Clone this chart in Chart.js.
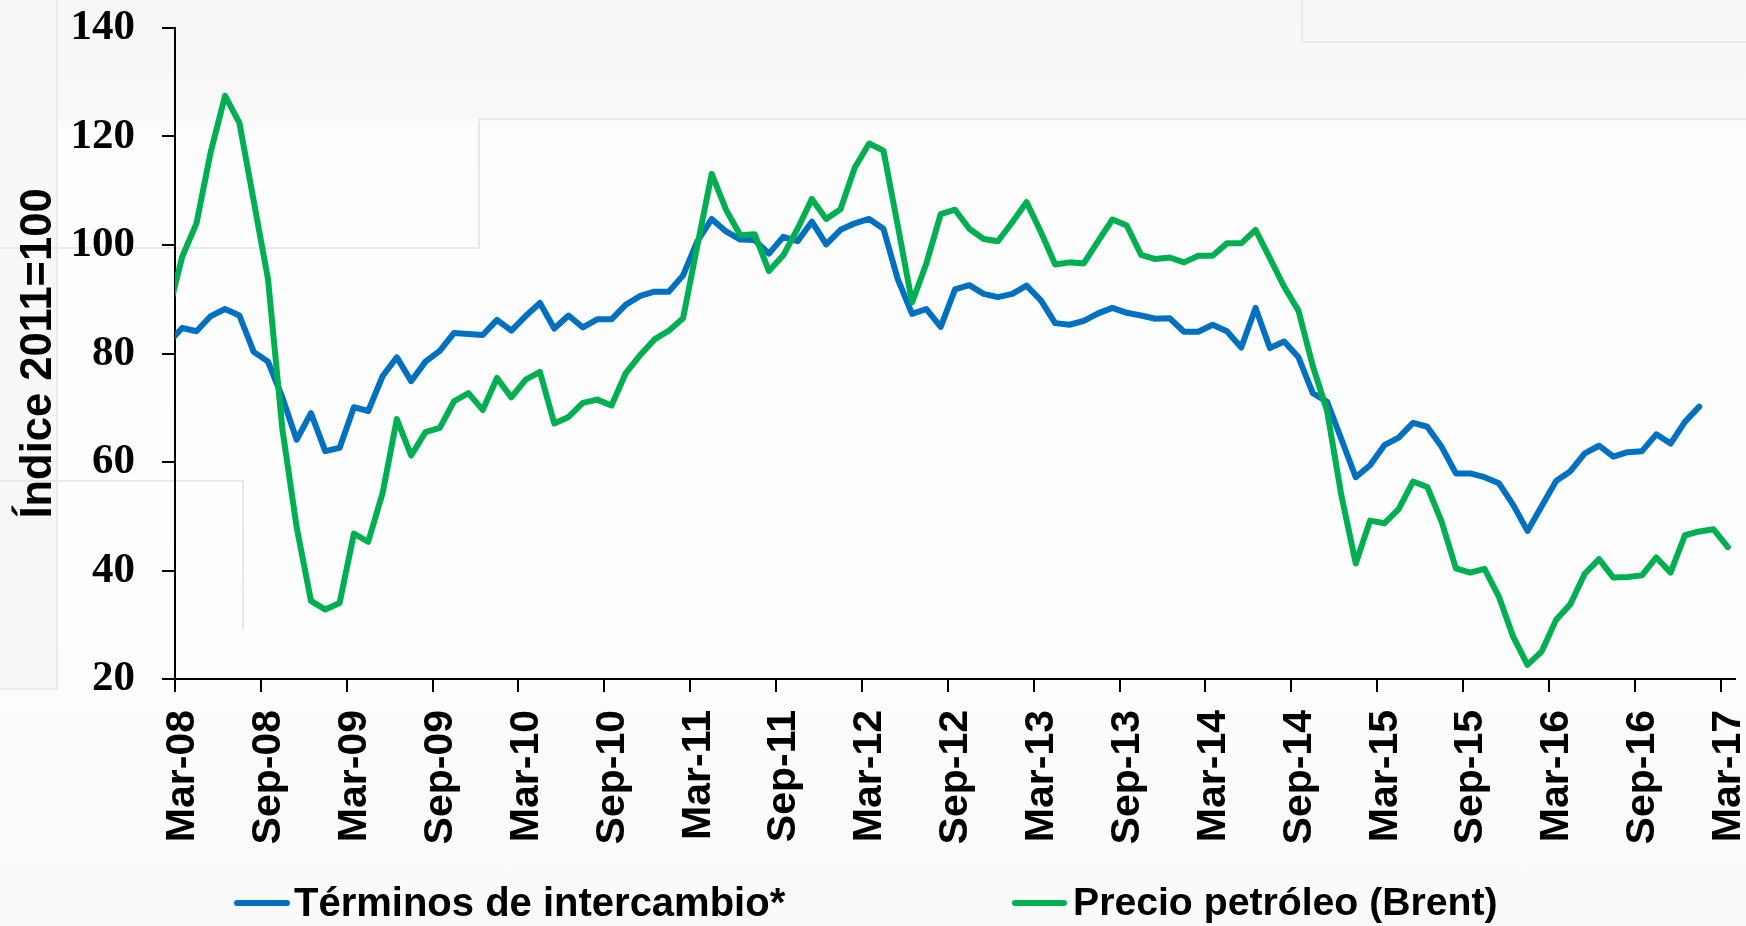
<!DOCTYPE html>
<html lang="es">
<head>
<meta charset="utf-8">
<title>Términos de intercambio y precio del petróleo</title>
<script src="https://cdn.jsdelivr.net/npm/chart.js@4.4.1/dist/chart.umd.min.js"></script>
<style>
  html, body { margin: 0; padding: 0; }
  body {
    width: 1746px; height: 926px; overflow: hidden; position: relative;
    background: linear-gradient(#f7f7f7 0px, #f9f9f9 122px, #fdfdfd 130px, #fefefe 520px, #fafafa 926px);
  }
  .deco { position: absolute; background: #e9e9e9; }
  #chart { position: absolute; left: 0; top: 0; }
  .leg-text {
    position: absolute; top: 879px; color: #000; white-space: nowrap;
    font: bold 40px "Liberation Sans", Arial, sans-serif; line-height: 46px;
  }
  .leg-line { position: absolute; top: 900px; height: 6px; border-radius: 3px; }
</style>
</head>
<body>
<!-- fondo de la diapositiva -->
<div class="deco" style="left:0;top:0;width:56px;height:688px;background:#f8f8f8;border-right:2px solid #ebebeb;border-bottom:2px solid #ebebeb"></div>
<div class="deco" style="left:479px;top:118px;width:1267px;height:2px"></div>
<div class="deco" style="left:478px;top:118px;width:2px;height:131px"></div>
<div class="deco" style="left:0;top:247px;width:480px;height:2px"></div>
<div class="deco" style="left:1301px;top:0;width:2px;height:43px"></div>
<div class="deco" style="left:1301px;top:41px;width:445px;height:2px"></div>
<div class="deco" style="left:0;top:480px;width:244px;height:2px"></div>
<div class="deco" style="left:242px;top:480px;width:2px;height:150px"></div>

<canvas id="chart" width="1746" height="926"></canvas>

<div class="leg-line" style="left:234px;width:56px;background:#0070C0"></div>
<div class="leg-text" style="left:294px">Términos de intercambio*</div>
<div class="leg-line" style="left:1012px;width:55px;background:#00B050"></div>
<div class="leg-text" style="left:1073px;font-size:39.2px">Precio petróleo (Brent)</div>

<script>
// Meses desde Feb-08 (el primero queda cortado por el eje) hasta Mar-17
const months = [];
for (let y = 2008; y <= 2017; y++) {
    ['Ene', 'Feb', 'Mar', 'Abr', 'May', 'Jun', 'Jul', 'Ago', 'Sep', 'Oct', 'Nov', 'Dic'].forEach((m, k) => {
        if ((y === 2008 && k < 1) || (y === 2017 && k > 2)) return;
        months.push(m + '-' + String(y).slice(2));
    });
}

const tickLabels = ['Mar-08', 'Sep-08', 'Mar-09', 'Sep-09', 'Mar-10', 'Sep-10', 'Mar-11', 'Sep-11',
    'Mar-12', 'Sep-12', 'Mar-13', 'Sep-13', 'Mar-14', 'Sep-14', 'Mar-15', 'Sep-15', 'Mar-16', 'Sep-16', 'Mar-17'];

const yTicks = [20, 40, 60, 80, 100, 120, 140];

// Términos de intercambio (índice 2011=100), Feb-08 ... Ene-17
const terminos = [
    81.9, 84.7, 84.1, 86.9, 88.2, 87, 80.3, 78.5, 71.9, 64.1, 69,
    62, 62.6, 70.1, 69.4, 75.8, 79.3, 74.9, 78.5, 80.5, 83.8, 83.6, 83.4,
    86.2, 84.2, 86.9, 89.3, 84.6, 87, 84.8, 86.3, 86.3, 89, 90.6, 91.4,
    91.4, 94.4, 100.7, 104.8, 102.5, 101, 100.9, 98.4, 101.5, 100.7, 104.3, 100.1,
    102.8, 104, 104.8, 103, 93.7, 87.3, 88.2, 84.9, 91.8, 92.6, 91, 90.4,
    91, 92.5, 89.8, 85.6, 85.3, 86, 87.4, 88.4, 87.5, 87, 86.4, 86.5,
    84, 84, 85.3, 84.1, 81.1, 88.4, 81, 82.2, 79.3, 72.7, 71.1, 64.2,
    57.2, 59.4, 63.1, 64.5, 67.2, 66.5, 62.8, 57.9, 57.9, 57.2, 56.1, 52.1,
    47.3, 51.9, 56.5, 58.3, 61.6, 63, 61, 61.8, 62, 65.1, 63.4, 67.4,
    70.2
];

// Precio del petróleo Brent (índice 2011=100), Feb-08 ... Mar-17
const brent = [
    87.2, 97.8, 104, 117.2, 127.5, 122.5, 108.1, 93.7, 66.1, 48, 34.4,
    32.8, 34, 46.8, 45.3, 54.2, 67.9, 61.2, 65.5, 66.3, 71.2, 72.7, 69.6,
    75.5, 71.9, 75.2, 76.6, 67.1, 68.3, 70.9, 71.5, 70.4, 76.4, 79.7, 82.6,
    84.2, 86.5, 99.9, 113.1, 106.5, 101.8, 102, 95.2, 98.1, 103, 108.5, 104.8,
    106.6, 114.3, 118.7, 117.4, 103.6, 89.4, 96.6, 105.7, 106.5, 103, 101.1, 100.7,
    104.2, 107.9, 102.4, 96.4, 96.8, 96.6, 100.7, 104.7, 103.6, 98.2, 97.4, 97.7,
    96.8, 98, 98, 100.3, 100.3, 102.8, 97.6, 92.3, 87.9, 77.7, 69.4, 53.8,
    41.3, 49.2, 48.7, 51.3, 56.4, 55.4, 49, 40.4, 39.6, 40.3, 35.2, 27.8,
    22.6, 25.1, 30.9, 33.8, 39.4, 42.1, 38.7, 38.8, 39.1, 42.4, 39.6, 46.5,
    47.2, 47.6, 44.3
];

// cada mes ocupa una casilla; el punto va en el centro (Mar-08 -> 0.5)
const toPoints = (values) => values.map((v, i) => ({ x: i - 0.5, y: v, mes: months[i] }));

const axisColor = '#000';

new Chart(document.getElementById('chart'), {
    type: 'line',
    data: {
        datasets: [
            {
                label: 'Términos de intercambio*',
                data: toPoints(terminos),
                borderColor: '#0070C0',
                borderWidth: 6,
                order: 1
            },
            {
                label: 'Precio petróleo (Brent)',
                data: toPoints(brent),
                borderColor: '#00B050',
                borderWidth: 6,
                order: 0
            }
        ]
    },
    options: {
        responsive: false,
        devicePixelRatio: 1,
        animation: false,
        clip: 0,
        elements: {
            point: { radius: 0 },
            line: { tension: 0, borderJoinStyle: 'round', borderCapStyle: 'round', fill: false }
        },
        layout: { padding: { left: 0, top: 28, right: 11, bottom: 0 } },
        plugins: { legend: { display: false }, tooltip: { enabled: false } },
        scales: {
            x: {
                type: 'linear',
                min: 0,
                max: 109,
                afterBuildTicks: (axis) => {
                    axis.ticks = tickLabels.map((_, k) => ({ value: k * 6 }));
                },
                afterFit: (axis) => {
                    axis.height = 926 - 679;
                    axis.paddingLeft = 0;
                    axis.paddingRight = 0;
                },
                ticks: {
                    autoSkip: false,
                    minRotation: 90,
                    maxRotation: 90,
                    padding: 18,
                    labelOffset: 8,
                    color: '#000',
                    font: { family: '"Liberation Sans", Arial, sans-serif', size: 41, weight: 'bold' },
                    callback: (value) => tickLabels[value / 6]
                },
                grid: { drawOnChartArea: false, tickLength: 13, color: axisColor, lineWidth: 2 },
                border: { color: axisColor, width: 2 }
            },
            y: {
                min: 20,
                max: 140,
                afterBuildTicks: (axis) => {
                    axis.ticks = yTicks.map(v => ({ value: v }));
                },
                afterFit: (axis) => {
                    axis.width = 175;
                    axis.paddingTop = 0;
                    axis.paddingBottom = 0;
                },
                ticks: {
                    padding: 27,
                    color: '#000',
                    font: { family: '"Liberation Serif", "Times New Roman", serif', size: 43, weight: 'bold' }
                },
                grid: { drawOnChartArea: false, tickLength: 13, color: axisColor, lineWidth: 2 },
                border: { color: axisColor, width: 2 },
                title: {
                    display: true,
                    text: 'Índice 2011=100',
                    color: '#000',
                    padding: { top: 13, bottom: 0 },
                    font: { family: '"Liberation Sans", Arial, sans-serif', size: 43.5, weight: 'bold' }
                }
            }
        }
    }
});
</script>
</body>
</html>
